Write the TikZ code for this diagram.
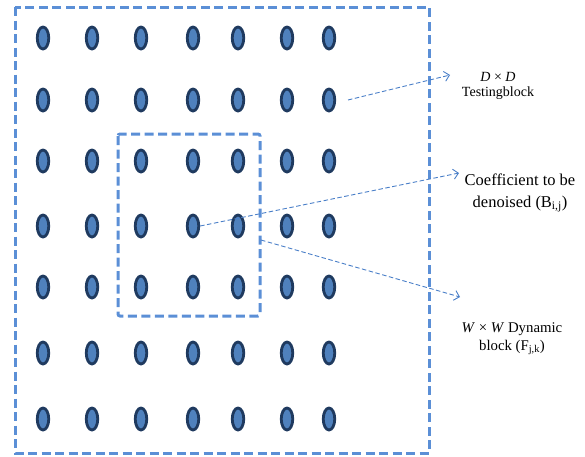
\documentclass[tikz,border=0pt]{standalone}
\usepackage{fontspec}
\setmainfont{Liberation Serif}
\usetikzlibrary{arrows.meta,shapes.geometric}
\definecolor{boxblue}{HTML}{5B8FD6}
\definecolor{dotfill}{HTML}{4F81BD}
\definecolor{dotline}{HTML}{1F3A5F}
\definecolor{arrowblue}{HTML}{4A7FC8}
\begin{document}
\begin{tikzpicture}[x=1pt,y=-1pt,
  frame/.style={draw=boxblue, line width=3pt, dash pattern=on 9pt off 4.5pt},
  coef/.style={ellipse, draw=dotline, fill=dotfill, line width=2.8pt,
    minimum width=11.5pt, minimum height=22pt, inner sep=0pt},
  pointer/.style={draw=arrowblue, line width=0.9pt, dash pattern=on 4.5pt off 2.5pt,
    -{Straight Barb[length=5pt,width=10pt,line width=0.9pt]}},
  label/.style={align=center, inner sep=0pt, text=black}]
\useasboundingbox (0,0) rectangle (585,456);
% testing block and the dynamic block inside it
\draw[frame] (15,7) rectangle (429,453);
\draw[frame, rounded corners=2pt] (118,134) rectangle (260,316);
% 7 x 7 grid of coefficients
\foreach \r/\y in {1/38,2/100,3/161,4/226,5/287,6/353,7/419}{
  \foreach \c/\x in {1/43,2/92,3/141,4/193,5/238,6/287,7/329}{
    \node[coef] (d-\r-\c) at (\x,\y) {};
  }
}
% labels
\node[label, font=\fontsize{14}{15.5}\selectfont] (tb) at (498,86)
  {\textit{D} × \textit{D}\\Testingblock};
\node[label, font=\fontsize{16.5}{21.5}\selectfont] (cf) at (520,193)
  {Coefficient to be\\denoised (B\textsubscript{i,j})};
\node[label, font=\fontsize{14.8}{17.5}\selectfont] (dy) at (512,339)
  {\textit{W} × \textit{W} Dynamic\\block (F\textsubscript{j,k})};
% pointers
\coordinate (tbstart) at (348,100);
\coordinate (dystart) at (261,240);
\draw[pointer] (tbstart) -- (450,75);
\draw[pointer] (d-4-4.east) -- (459,173);
\draw[pointer] (dystart) -- (460,297);
\end{tikzpicture}
\end{document}
